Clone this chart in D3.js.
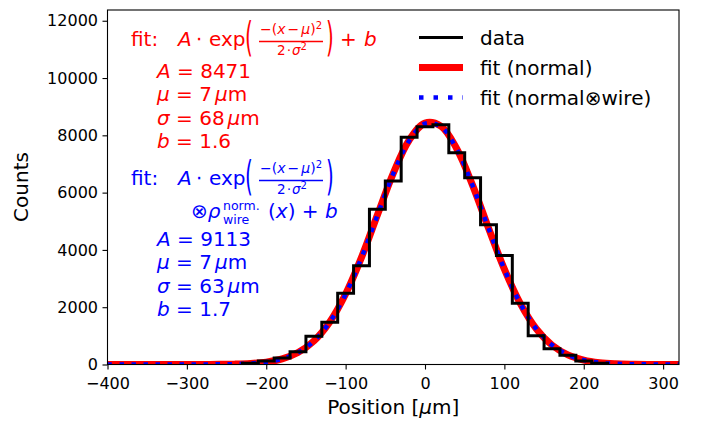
<!DOCTYPE html>
<html><head><meta charset="utf-8">
<script src="https://cdn.jsdelivr.net/npm/d3@7"></script>
<style>
html,body{margin:0;padding:0;background:#fff;}
text{font-family:"DejaVu Sans",sans-serif;}
</style></head>
<body><svg id="chart" width="707" height="421"></svg>
<script>
// ---- data ----
const binEdges = [-230,-210,-190,-170,-150,-130,-110,-90,-70,-50,-30,-10,10,30,50,70,90,110,130,150,170,190,210,230];
const binCounts = [40,120,225,447,990,1473,2485,3449,5417,6405,7930,8300,8370,7393,6520,4880,3805,2136,1005,550,320,125,40];
const fitX = [-400,-380,-360,-340,-320,-300,-280,-260,-240,-220,-200,-180,-160,-140,-120,-100,-80,-60,-40,-20,0,20,40,60,80,100,120,140,160,180,200,220,240,260,280,300,320];
const fitNormal = [1.6,1.6,1.6,1.6,1.7,1.9,2.7,5.4,13,34,84,195,417,820,1483,2459,3738,5216,6673,7830,8428,8320,7533,6254,4763,3327,2132,1253,676,335,153,64,25.5,10,4.3,2.4,1.8];
const fitWire = [1.7,1.7,1.7,1.7,1.8,2.0,2.8,5.6,14,35,86,197,418,820,1480,2455,3730,5205,6660,7812,8408,8300,7516,6242,4755,3323,2131,1254,678,337,155,66,26.5,10.5,4.5,2.5,1.9];
const xTicks = [-400,-300,-200,-100,0,100,200,300];
const xTickLabels = ["\u2212400","\u2212300","\u2212200","\u2212100","0","100","200","300"];
const yTicks = [0,2000,4000,6000,8000,10000,12000];
const yTickLabels = ["0","2000","4000","6000","8000","10000","12000"];
const legendLabels = ["data","fit (normal)","fit (normal\u2297wire)"];
const xDomain = [-400,320];
const yDomain = [0,12375];

// ---- layout ----
const svg = d3.select("#chart");
const L=107.5, R=679, T=10, B=364.5;
const x = d3.scaleLinear().domain(xDomain).range([L,R]);
const y = d3.scaleLinear().domain(yDomain).range([B,T]);

const plot = svg.append("g");
plot.append("clipPath").attr("id","clip").append("rect")
  .attr("x",L).attr("y",T).attr("width",R-L).attr("height",B-T);
const cg = plot.append("g").attr("clip-path","url(#clip)");

const line = d3.line().x(d=>x(d[0])).y(d=>y(d[1])).curve(d3.curveCatmullRom.alpha(0.5));
cg.append("path").datum(fitX.map((v,i)=>[v,fitNormal[i]]))
  .attr("d",line).attr("fill","none").attr("stroke","#ff0000").attr("stroke-width",7);
cg.append("path").datum(fitX.map((v,i)=>[v,fitWire[i]]))
  .attr("d",line).attr("fill","none").attr("stroke","#0000ff").attr("stroke-width",4.5)
  .attr("stroke-dasharray","4.5 7.5");

// step histogram
const stepPts = [[binEdges[0],0]];
binCounts.forEach((c,i)=>{stepPts.push([binEdges[i],c]);stepPts.push([binEdges[i+1],c]);});
stepPts.push([binEdges[binEdges.length-1],0]);
cg.append("path").datum(stepPts)
  .attr("d",d3.line().x(d=>x(d[0])).y(d=>y(d[1])))
  .attr("fill","none").attr("stroke","#000").attr("stroke-width",3).attr("stroke-linejoin","miter");

// axes
const xAxis = d3.axisBottom(x).tickValues(xTicks).tickFormat((d,i)=>xTickLabels[i]).tickSize(5).tickPadding(4);
const yAxis = d3.axisLeft(y).tickValues(yTicks).tickFormat((d,i)=>yTickLabels[i]).tickSize(5).tickPadding(4.5);
const gx = svg.append("g").attr("transform",`translate(0,${B})`).call(xAxis);
const gy = svg.append("g").attr("transform",`translate(${L},0)`).call(yAxis);
[gx,gy].forEach(g=>{
  g.select(".domain").remove();
  g.selectAll("line").attr("stroke","#000").attr("stroke-width",1.1);
  g.selectAll("text").attr("font-family","DejaVu Sans").attr("font-size",16).attr("fill","#000");
});
gx.selectAll("text").attr("dy","0.95em");
svg.append("rect").attr("x",L).attr("y",T).attr("width",R-L).attr("height",B-T)
  .attr("fill","none").attr("stroke","#000").attr("stroke-width",1.1);

svg.append("text").attr("x",(L+R)/2).attr("y",414).attr("text-anchor","middle")
  .attr("font-size",20).html('Position [<tspan font-style="italic">\u03bc</tspan>m]');
svg.append("text").attr("transform","translate(28,187) rotate(-90)").attr("text-anchor","middle")
  .attr("font-size",20).text("Counts");

// legend
const lg = svg.append("g");
const ly = [37.5,67.5,97.5];
lg.append("line").attr("x1",419).attr("x2",463).attr("y1",ly[0]).attr("y2",ly[0]).attr("stroke","#000").attr("stroke-width",3);
lg.append("line").attr("x1",419).attr("x2",463).attr("y1",ly[1]).attr("y2",ly[1]).attr("stroke","#ff0000").attr("stroke-width",7);
lg.append("line").attr("x1",419).attr("x2",463).attr("y1",ly[2]).attr("y2",ly[2]).attr("stroke","#0000ff").attr("stroke-width",4.5).attr("stroke-dasharray","4.5 10");
legendLabels.forEach((t,i)=>lg.append("text").attr("x",480).attr("y",ly[i]+7).attr("font-size",20).text(t));

// annotations
function header(g, y0, color, withB){
  const tx=(xx,yy,s,fs,it)=>g.append("text").attr("x",xx).attr("y",yy).attr("font-size",fs)
      .attr("fill",color).attr("font-style",it?"italic":"normal").text(s);
  tx(131,y0,"fit:",20,false);
  tx(178,y0,"A",20,true);
  tx(196,y0,"\u22c5",20,false);
  tx(209,y0,"exp",20,false);
  g.append("text").attr("transform",`translate(245,${y0+5}) scale(1,2)`).attr("font-size",20).attr("fill",color).text("(");
  g.append("text").attr("x",291).attr("y",y0-12).attr("font-size",14).attr("fill",color).attr("text-anchor","middle")
    .html('\u2212(<tspan font-style="italic">x</tspan><tspan dx="2">\u2212</tspan><tspan dx="2" font-style="italic">\u03bc</tspan>)<tspan font-size="10" dy="-5">2</tspan>');
  g.append("line").attr("x1",259).attr("x2",323).attr("y1",y0-4.5).attr("y2",y0-4.5).attr("stroke",color).attr("stroke-width",1.3);
  g.append("text").attr("x",292).attr("y",y0+8.5).attr("font-size",13.5).attr("fill",color).attr("text-anchor","middle")
    .html('2<tspan dx="1">\u22c5</tspan><tspan dx="1" font-style="italic">\u03c3</tspan><tspan font-size="10" dy="-5">2</tspan>');
  g.append("text").attr("transform",`translate(326,${y0+5}) scale(1,2)`).attr("font-size",20).attr("fill",color).text(")");
  if(withB){ tx(340,y0,"+",20,false); tx(364,y0,"b",20,true); }
}
function params(g, y0, color, vals){
  const rows = [
    `<tspan font-style="italic">A</tspan> = ${vals[0]}`,
    `<tspan font-style="italic">\u03bc</tspan> = ${vals[1]}<tspan dx="3" font-style="italic">\u03bc</tspan>m`,
    `<tspan font-style="italic">\u03c3</tspan> = ${vals[2]}<tspan dx="3" font-style="italic">\u03bc</tspan>m`,
    `<tspan font-style="italic">b</tspan> = ${vals[3]}`];
  rows.forEach((r,i)=>g.append("text").attr("x",157).attr("y",y0+i*23.4).attr("font-size",20).attr("fill",color).html(r));
}
const redParams = ["8471","7","68","1.6"];
const blueParams = ["9113","7","63","1.7"];
const ag = svg.append("g");
header(ag,46,"#ff0000",true);
params(ag,78,"#ff0000",redParams);
header(ag,185,"#0000ff",false);
ag.append("text").attr("x",191).attr("y",218).attr("font-size",20).attr("fill","#0000ff")
  .html('\u2297<tspan font-style="italic">\u03c1</tspan>');
ag.append("text").attr("x",223).attr("y",209.5).attr("font-size",12.5).attr("fill","#0000ff").text("norm.");
ag.append("text").attr("x",223).attr("y",224.3).attr("font-size",12.5).attr("fill","#0000ff").text("wire");
ag.append("text").attr("x",268).attr("y",218).attr("font-size",20).attr("fill","#0000ff")
  .html('(<tspan font-style="italic">x</tspan>) + <tspan font-style="italic">b</tspan>');
params(ag,246,"#0000ff",blueParams);
</script></body></html>
